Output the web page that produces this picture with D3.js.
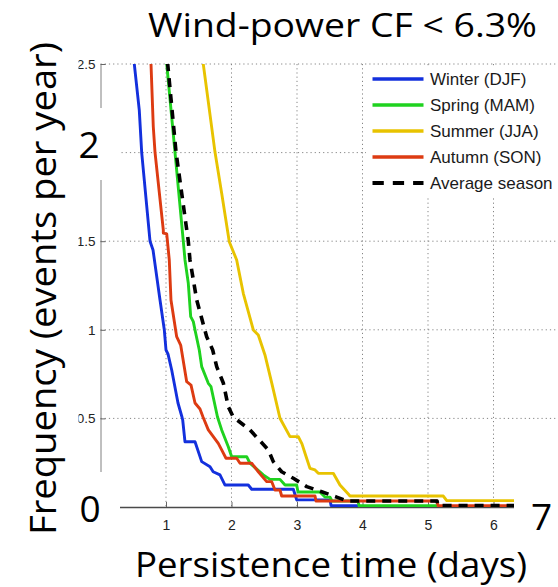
<!DOCTYPE html>
<html>
<head>
<meta charset="utf-8">
<script src="https://cdn.jsdelivr.net/npm/d3@7"></script>
<style>
  html, body { margin: 0; padding: 0; background: #fff; }
  svg { display: block; }
</style>
</head>
<body>
<svg id="chart" width="558" height="587"></svg>
<script>
// ---------------- DATA ----------------
const titleText = "Wind-power CF < 6.3%";
const xLabelText = "Persistence time (days)";
const yLabelText = "Frequency (events per year)";
const seriesNames = ["Winter (DJF)", "Spring (MAM)", "Summer (JJA)", "Autumn (SON)", "Average season"];
const xTickValues = [1, 2, 3, 4, 5, 6];
const yTickValues = [0, 0.5, 1, 1.5, 2, 2.5];
const yTickHidden = [0, 2];           // covered by the large overlay numbers
const bigLabels = ["2", "0", "7"];

// [persistence (days), frequency (events/yr)]
const winter = [[0.48,2.60],[0.516,2.50],[0.592,2.24],[0.629,2.00],[0.756,1.50],[0.802,1.45],[0.908,1.17],
  [0.974,1.00],[1.00,0.886],[1.031,0.863],[1.087,0.773],[1.183,0.587],[1.244,0.508],[1.255,0.491],
  [1.29,0.368],[1.443,0.368],[1.545,0.256],[1.672,0.227],[1.72,0.199],[1.824,0.181],[1.901,0.124],
  [2.256,0.124],[2.308,0.100],[2.944,0.100],[2.995,0.040],[3.504,0.040],[3.52,0.008],[3.931,0.008]];
const spring = [[0.985,2.60],[1.011,2.50],[1.137,2.003],[1.264,1.501],[1.290,1.394],[1.340,1.264],
  [1.377,1.074],[1.417,1.046],[1.443,0.999],[1.508,0.886],[1.545,0.792],[1.646,0.698],[1.687,0.679],
  [1.786,0.508],[1.850,0.435],[1.951,0.340],[2.003,0.284],[2.232,0.284],[2.282,0.247],[2.485,0.181],
  [2.588,0.156],[2.740,0.156],[2.817,0.124],[2.995,0.124],[3.015,0.085],[3.351,0.085],[3.427,0.056],
  [3.504,0.056],[3.534,0.034],[3.931,0.034],[3.947,0.008],[5.137,0.008]];
const summer = [[1.533,2.60],[1.569,2.50],[1.748,2.003],[1.850,1.770],[1.966,1.497],[2.079,1.394],
  [2.180,1.206],[2.333,0.999],[2.409,0.971],[2.511,0.858],[2.614,0.700],[2.740,0.501],[2.893,0.397],
  [3.020,0.397],[3.076,0.356],[3.122,0.303],[3.198,0.218],[3.275,0.209],[3.325,0.190],[3.554,0.190],
  [3.656,0.124],[3.783,0.073],[3.809,0.062],[5.234,0.062],[5.286,0.036],[7.0,0.036]];
const autumn = [[0.760,2.60],[0.771,2.50],[0.806,2.146],[0.832,2.003],[0.959,1.563],[0.959,1.546],
  [1.011,1.541],[1.050,1.394],[1.076,1.168],[1.163,0.961],[1.224,0.914],[1.316,0.707],[1.382,0.688],
  [1.443,0.587],[1.519,0.553],[1.565,0.508],[1.646,0.435],[1.798,0.359],[1.850,0.322],[1.916,0.275],
  [2.079,0.275],[2.130,0.247],[2.308,0.247],[2.409,0.199],[2.537,0.143],[2.614,0.143],[2.664,0.096],
  [2.740,0.096],[2.766,0.062],[3.275,0.062],[3.290,0.034],[5.137,0.034],[5.153,0.008],[7.0,0.008]];
const average = [[1.0,2.60],[1.026,2.50],[1.153,2.003],[1.340,1.501],[1.366,1.394],[1.469,1.168],
  [1.621,0.961],[1.713,0.886],[1.774,0.792],[1.875,0.700],[1.951,0.566],[2.027,0.508],[2.282,0.435],
  [2.562,0.322],[2.638,0.256],[2.766,0.199],[2.944,0.162],[3.148,0.115],[3.377,0.086],[3.606,0.056],
  [3.763,0.034],[5.137,0.034],[5.153,0.008],[7.0,0.008]];

const seriesData = [winter, spring, summer, autumn, average];
const seriesColors = ["#1330dd", "#1fd21f", "#e8c300", "#dd3b12", "#000000"];

// ---------------- LAYOUT ----------------
const svg = d3.select("#chart");
const x = d3.scaleLinear().domain([0, 7]).range([100.5, 559]);
const y = d3.scaleLinear().domain([0, 2.5]).range([507, 64]);

svg.append("rect").attr("width", 558).attr("height", 587).attr("fill", "#fff");

svg.append("defs").append("clipPath").attr("id", "plotclip")
  .append("rect").attr("x", x(0)).attr("y", y(2.5)).attr("width", x(7) - x(0)).attr("height", y(0) - y(2.5));

// grid
const grid = svg.append("g");
grid.selectAll("line.vg").data(xTickValues).join("line")
  .attr("x1", d => x(d)).attr("x2", d => x(d)).attr("y1", y(2.5)).attr("y2", y(0))
  .attr("stroke", "#858585").attr("stroke-width", 1).attr("stroke-dasharray", "1.2,3");
grid.selectAll("line.hg").data(yTickValues.filter(d => d > 0)).join("line")
  .attr("x1", x(0)).attr("x2", x(7)).attr("y1", d => y(d)).attr("y2", d => y(d))
  .attr("stroke", "#858585").attr("stroke-width", 1).attr("stroke-dasharray", "1.2,3");

// axes
const xAxis = d3.axisBottom(x).tickValues(xTickValues).tickSize(-5).tickPadding(13).tickFormat(d3.format("d"));
const yAxis = d3.axisLeft(y).tickValues(yTickValues).tickSize(-5).tickPadding(5).tickFormat(d => String(d));

const gx = svg.append("g").attr("transform", `translate(0,${y(0)})`).call(xAxis);
gx.select(".domain").attr("stroke", "#4a4a4a").attr("stroke-width", 1.6);
gx.selectAll(".tick line").attr("stroke", "#666");
gx.selectAll(".tick text").attr("font-family", "Liberation Sans, Arial, sans-serif")
  .attr("font-size", 14).attr("fill", "#222");

const gy = svg.append("g").attr("transform", `translate(${x(0)},0)`).call(yAxis);
gy.select(".domain").attr("stroke", "#808080").attr("stroke-width", 1);
gy.selectAll(".tick line").attr("stroke", "#666");
gy.selectAll(".tick text").attr("font-family", "Liberation Sans, Arial, sans-serif")
  .attr("font-size", 13.5).attr("fill", "#222");
gy.selectAll(".tick text").filter(d => yTickHidden.includes(d)).remove();

// curves
const line = d3.line().x(d => x(d[0])).y(d => y(d[1]));
const curves = svg.append("g").attr("clip-path", "url(#plotclip)");
[0, 1, 2, 3, 4].forEach(i => {
  curves.append("path").datum(seriesData[i])
    .attr("d", line).attr("fill", "none")
    .attr("stroke", seriesColors[i])
    .attr("stroke-width", i === 4 ? 3.6 : 2.9)
    .attr("stroke-linejoin", "round")
    .attr("stroke-dasharray", i === 4 ? "9,7" : null);
});

// legend
const lg = svg.append("g");
lg.append("rect").attr("x", 366).attr("y", 67).attr("width", 192).attr("height", 129).attr("fill", "#fff");
seriesNames.forEach((name, i) => {
  const cy = 79 + i * 26;
  lg.append("line").attr("x1", 372.5).attr("x2", 423.5).attr("y1", cy).attr("y2", cy)
    .attr("stroke", seriesColors[i]).attr("stroke-width", i === 4 ? 4 : 3.4)
    .attr("stroke-dasharray", i === 4 ? "11.3,9" : null);
  lg.append("text").attr("x", 430).attr("y", cy).attr("dy", "0.36em")
    .attr("font-family", "Liberation Sans, Arial, sans-serif").attr("font-size", 17)
    .attr("fill", "#1a1a1a").text(name);
});

// overlay boxes (slide annotations)
const boxes = svg.append("g").attr("fill", "#fff");
boxes.append("rect").attr("x", 0).attr("y", 0).attr("width", 78.5).attr("height", 587);
boxes.append("rect").attr("x", 66).attr("y", 108).attr("width", 54).attr("height", 72);
boxes.append("rect").attr("x", 66).attr("y", 472).attr("width", 54).attr("height", 73);
boxes.append("rect").attr("x", 514).attr("y", 470).attr("width", 44).attr("height", 75);

// overlay texts
const bigFont = "Open Sans, Noto Sans, sans-serif";
svg.append("text").attr("x", 148).attr("y", 37).attr("font-family", bigFont).attr("font-size", 33)
  .attr("fill", "#000").attr("textLength", 389).attr("lengthAdjust", "spacingAndGlyphs").text(titleText);
svg.append("text").attr("x", 135).attr("y", 577).attr("font-family", bigFont).attr("font-size", 34)
  .attr("fill", "#000").attr("textLength", 392).attr("lengthAdjust", "spacingAndGlyphs").text(xLabelText);
svg.append("text").attr("transform", "translate(56,288.5) rotate(-90)").attr("text-anchor", "middle")
  .attr("font-family", bigFont).attr("font-size", 37).attr("fill", "#000")
  .attr("textLength", 493).attr("lengthAdjust", "spacingAndGlyphs").text(yLabelText);

const bigPos = [[89, 158], [90, 522], [541.5, 530]];
bigLabels.forEach((t, i) => {
  svg.append("text").attr("x", bigPos[i][0]).attr("y", bigPos[i][1]).attr("text-anchor", "middle")
    .attr("font-family", bigFont).attr("font-size", 37).attr("fill", "#000").text(t);
});
</script>
</body>
</html>
